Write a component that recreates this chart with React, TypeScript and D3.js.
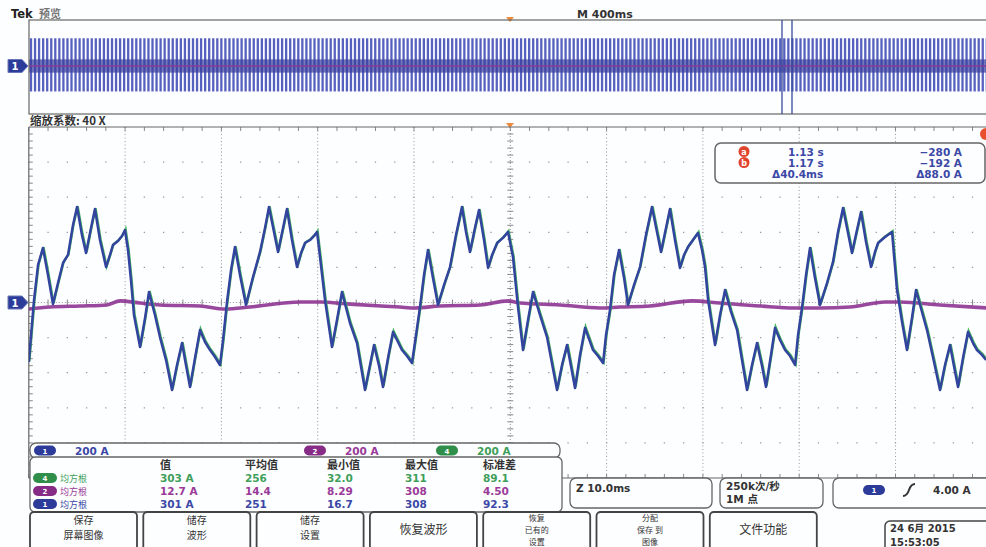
import React from 'react';
import * as d3 from 'd3';

// ---- Channel 1 (blue) current, zoom window: time in ms, current in A ----
const CH1_TIME_MS = [
  0.0, 0.54, 0.96, 1.47, 1.99, 2.51, 3.03, 3.55, 4.07, 4.59, 5.01, 5.52, 5.94, 6.46, 6.87, 7.39, 8.02, 8.43, 8.74, 9.26, 9.68, 9.99,
  10.30, 10.61, 10.92, 11.55, 12.07, 12.48, 13.10, 13.62, 14.25, 14.87, 15.39, 15.91, 16.32, 16.74, 17.26, 17.78, 18.30, 18.82, 19.34, 19.85,
  20.17, 20.58, 21.00, 21.41, 21.93, 22.55, 23.28, 24.01, 24.53, 24.94, 25.46, 25.88, 26.40, 26.81, 27.33, 27.85, 28.27, 28.68, 29.20, 29.62, 29.93,
  30.24, 30.76, 31.48, 32.00, 32.52, 33.35, 34.08, 34.91, 35.43, 35.85, 36.37, 36.78, 37.30, 37.82, 38.75, 39.27, 39.79,
  40.21, 40.62, 41.04, 41.45, 41.97, 42.49, 43.12, 43.74, 44.36, 44.98, 45.40, 45.81, 46.33, 46.75, 47.27, 47.69, 48.11, 48.63, 49.24, 49.76,
  50.28, 50.80, 51.32, 51.84, 52.36, 53.08, 53.81, 54.85, 55.37, 55.89, 56.30, 56.72, 57.24, 57.76, 58.59, 59.11, 59.63, 59.94,
  60.35, 60.77, 61.29, 61.81, 62.22, 62.85, 63.47, 64.09, 64.71, 65.23, 65.65, 66.17, 66.58, 67.10, 67.62, 68.04, 68.45, 68.97, 69.49, 69.91,
  70.22, 70.54, 71.26, 71.78, 72.30, 72.92, 73.55, 74.06, 74.58, 75.10, 75.62, 76.14, 76.55, 77.07, 77.49, 78.01, 78.53, 79.05, 79.57, 79.88,
  80.30, 80.71, 81.12, 81.64, 82.16, 82.89, 83.51, 84.03, 84.55, 85.07, 85.48, 86.00, 86.42, 86.94, 87.46, 87.87, 88.19, 88.91, 89.64, 89.84,
  90.16, 90.68, 91.19, 91.71, 92.13, 92.75, 93.27, 94.00, 94.62, 95.14, 95.66, 96.07, 96.49, 97.01, 97.53, 98.05, 98.46, 98.98, 99.40,
];
const CH1_AMPS = [
  -339, 14, 214, 311, 157, -9, 111, 225, 271, 442, 544, 385, 282, 425, 533, 356, 202, 271, 328, 350, 379, 413,
  299, 128, -71, -254, -88, 60, -71, -197, -328, -499, -356, -231, -356, -481, -316, -157, -225, -271, -311, -356,
  -214, 3, 185, 316, 157, -14, 145, 288, 425, 544, 402, 288, 425, 533, 356, 202, 282, 339, 356, 379, 402,
  259, 14, -254, -100, 60, -117, -231, -499, -356, -242, -362, -481, -316, -168, -271, -305, -345,
  -185, -26, 157, 299, 140, -14, 100, 202, 385, 544, 402, 288, 425, 527, 356, 197, 271, 339, 368, 402,
  259, -26, -271, -100, 60, -71, -197, -499, -356, -242, -362, -487, -299, -145, -271, -305, -345, -185,
  -43, 157, 299, 140, -14, 100, 202, 385, 544, 402, 288, 425, 533, 356, 197, 271, 316, 356, 396, 299,
  202, 14, -242, -71, 71, -54, -157, -328, -499, -356, -231, -362, -481, -299, -145, -214, -271, -305, -356, -185,
  -26, 157, 311, 140, -14, 111, 231, 402, 538, 396, 282, 413, 516, 345, 202, 288, 339, 373, 402, 271,
  71, -111, -271, -88, 71, -54, -157, -339, -499, -356, -242, -362, -481, -316, -168, -231, -271, -299, -328,
];

// ---- Channel 2 (purple) current ----
const CH2_TIME_MS = [
  0.0, 2.2, 5.32, 8.12, 9.47, 11.55, 13.62, 17.78, 20.37, 22.97, 28.16, 30.24, 33.35, 38.54, 40.1, 42.7, 46.85, 49.76,
  51.01, 55.17, 59.32, 61.4, 64.52, 68.87, 71.78, 75.94, 79.57, 82.16, 85.28, 88.91, 90.47, 94.62, 99.4,
];
const CH2_AMPS = [
  -37, -26, -20, -14, 9, -3, -14, -20, -37, -26, 3, 3, -9, -26, -31, -20, -14, 9,
  -3, -14, -31, -26, -20, 9, -3, -20, -31, -31, -26, 3, 3, -14, -31,
];

// ---- Labels ----
const MEAS_HEADERS = ['值', '平均值', '最小值', '最大值', '标准差'];
const MEAS_ROWS = [
  { name: '均方根', ch: '4', values: ['303 A', '256', '32.0', '311', '89.1'], color: '#3f9e5a', badge: '#2f8f4a' },
  { name: '均方根', ch: '2', values: ['12.7 A', '14.4', '8.29', '308', '4.50'], color: '#9a3a98', badge: '#862c86' },
  { name: '均方根', ch: '1', values: ['301 A', '251', '16.7', '308', '92.3'], color: '#3b48a6', badge: '#2c3a9a' },
];
const SCALE_LABELS = [
  { ch: '1', text: '200 A', color: '#3b48a6', badge: '#2c3a9a' },
  { ch: '2', text: '200 A', color: '#9a3a98', badge: '#862c86' },
  { ch: '4', text: '200 A', color: '#3f9e5a', badge: '#2f8f4a' },
];
const BUTTON_LABELS = [
  ['保存', '屏幕图像'],
  ['储存', '波形'],
  ['储存', '设置'],
  ['恢复波形'],
  ['恢复', '已有的', '设置'],
  ['分配', '保存 到', '图像'],
  ['文件功能'],
];
const CURSOR_ROWS = [
  { mark: 'a', time: '1.13 s', value: '−280 A' },
  { mark: 'b', time: '1.17 s', value: '−192 A' },
  { mark: '', time: 'Δ40.4ms', value: 'Δ88.0 A' },
];

const BLUE = '#33449e';
const FONT = "'DejaVu Sans', 'Noto Sans CJK SC', sans-serif";
const CJK = "'Noto Sans CJK SC', 'DejaVu Sans', sans-serif";

export default function App() {
  const W = 986, H = 547;
  const x = d3.scaleLinear().domain([0, 100]).range([28.8, 991.8]);
  const y = d3.scaleLinear().domain([-1000, 1000]).range([478, 127]);
  const yo = d3.scaleLinear().domain([-1000, 1000]).range([117, 15]);

  const ch1 = CH1_TIME_MS.map((t, i) => [t, CH1_AMPS[i]] as [number, number]);
  const ch2 = CH2_TIME_MS.map((t, i) => [t, CH2_AMPS[i]] as [number, number]);
  const line = d3.line<[number, number]>().x(d => x(d[0])).y(d => y(d[1]));
  const smooth = d3.line<[number, number]>().x(d => x(d[0])).y(d => y(d[1])).curve(d3.curveMonotoneX);

  const maxA = d3.max(CH1_AMPS) as number;
  const minA = d3.min(CH1_AMPS) as number;
  const overviewX = d3.range(31, 990, 4.05);

  const gx0 = x(0), gy0 = y(1000), gy1 = y(-1000);
  const minorDx = x(2) - x(0);

  const badge = (cx: number, cy: number, fill: string, label: string, w = 22, h = 10) => (
    <g>
      <rect x={cx - w / 2} y={cy - h / 2} width={w} height={h} rx={h / 2} fill={fill} />
      <text x={cx} y={cy + 3} fontSize={7} fill="#fff" textAnchor="middle" fontFamily={FONT} fontWeight="bold">{label}</text>
    </g>
  );

  const marker = (cy: number) => (
    <g>
      <path d={`M8,${cy - 6.5} H22 L28,${cy} L22,${cy + 6.5} H8 Z`} fill="#2c3c9a" stroke="#6a76b8" strokeWidth={1} />
      <text x={15} y={cy + 4} fontSize={10} fontWeight="bold" fill="#fff" textAnchor="middle" fontFamily={FONT}>1</text>
    </g>
  );

  return (
    <svg width={W} height={H} style={{ position: 'fixed', left: 0, top: 0, background: '#fdfeff' }}>
      <defs>
        <clipPath id="zoomClip"><rect x={gx0} y={gy0} width={W - gx0} height={gy1 - gy0} /></clipPath>
        <clipPath id="ovClip"><rect x={29} y={20} width={W - 29} height={94} /></clipPath>
      </defs>
      <rect width={W} height={H} fill="#fdfeff" />

      {/* Header */}
      <text x={11} y={18} fontSize={11.5} fontFamily={FONT} fontWeight="bold" fill="#222">Tek</text>
      <text x={39} y={18} fontSize={11} fontFamily={CJK} fontWeight="bold" fill="#777">预览</text>
      <text x={577} y={18} fontSize={11} fontFamily={FONT} fontWeight="bold" fill="#333">M 400ms</text>
      <path d="M506,17 L514,17 L510,22 Z" fill="#ee8a3a" />

      {/* Overview panel */}
      <g clipPath="url(#ovClip)">
        {overviewX.map((px, i) => (
          <line key={i} x1={px} x2={px} y1={yo(maxA)} y2={yo(minA)} stroke="#4450b8" strokeWidth={2.3} opacity={0.9} />
        ))}
        <rect x={29} y={yo(130)} width={W} height={yo(-130) - yo(130)} fill="#3a3f9c" opacity={0.7} />
        <line x1={29} x2={W} y1={yo(0)} y2={yo(0)} stroke="#8a3a9a" strokeWidth={2} opacity={0.7} />
      </g>
      <rect x={29} y={20} width={W} height={94} fill="none" stroke="#666" strokeWidth={1.2} />
      <line x1={782} x2={782} y1={20} y2={114} stroke="#3a4a9a" strokeWidth={1.3} />
      <line x1={792} x2={792} y1={20} y2={114} stroke="#3a4a9a" strokeWidth={1.3} />
      {marker(66)}

      {/* Zoom graticule */}
      <text x={30} y={125} fontSize={11.5} fontFamily={CJK} fontWeight="bold" fill="#333">缩放系数: 40 X</text>
      <path d="M506,123 L514,123 L510,128 Z" fill="#ee8a3a" />
      {d3.range(10, 100, 10).filter(t => t !== 50).map(t => (
        <line key={'v' + t} x1={x(t)} x2={x(t)} y1={gy0} y2={gy1} stroke="#999" strokeWidth={1} strokeDasharray="1 2.5" />
      ))}
      {d3.range(-800, 1000, 200).filter(a => a !== 0).map(a => (
        <line key={'h' + a} x1={gx0} x2={W} y1={y(a)} y2={y(a)} stroke="#999" strokeWidth={1.3}
          strokeDasharray={`1.3 ${minorDx - 1.3}`} strokeDashoffset={-minorDx + 0.65} />
      ))}
      <line x1={x(50)} x2={x(50)} y1={gy0} y2={gy1} stroke="#999" strokeWidth={1} strokeDasharray="1 2" />
      <line x1={gx0} x2={W} y1={y(0)} y2={y(0)} stroke="#999" strokeWidth={1} strokeDasharray="1 2" />
      {d3.range(-1000, 1000, 40).map(a => (
        <g key={'ct' + a}>
          <line x1={x(50) - 3} x2={x(50) + 3} y1={y(a)} y2={y(a)} stroke="#888" strokeWidth={1} />
          <line x1={gx0} x2={gx0 + 4} y1={y(a)} y2={y(a)} stroke="#888" strokeWidth={1} />
        </g>
      ))}
      {d3.range(0, 100, 2).map(t => (
        <g key={'tt' + t}>
          <line x1={x(t)} x2={x(t)} y1={y(0) - 3} y2={y(0) + 3} stroke="#888" strokeWidth={1} />
          <line x1={x(t)} x2={x(t)} y1={gy0} y2={gy0 + 4} stroke="#888" strokeWidth={1} />
          <line x1={x(t)} x2={x(t)} y1={gy1} y2={gy1 - 4} stroke="#888" strokeWidth={1} />
        </g>
      ))}
      <line x1={gx0} x2={W} y1={gy0} y2={gy0} stroke="#666" strokeWidth={1.2} />
      <line x1={gx0} x2={W} y1={gy1} y2={gy1} stroke="#666" strokeWidth={1.2} />
      <line x1={gx0} x2={gx0} y1={gy0} y2={gy1} stroke="#666" strokeWidth={1.2} />

      {/* Traces */}
      <g clipPath="url(#zoomClip)">
        <path d={smooth(ch2) || ''} fill="none" stroke="#8e3592" strokeWidth={3.6} opacity={0.9} />
        <path d={line(ch1) || ''} fill="none" stroke="#43b060" strokeWidth={2.4} transform="translate(0.6,-0.8)" />
        <path d={line(ch1) || ''} fill="none" stroke={BLUE} strokeWidth={2.5} strokeLinejoin="round" />
      </g>
      {marker(y(0))}
      <circle cx={986} cy={134} r={6} fill="#e8502e" />

      {/* Cursor readout */}
      <rect x={715} y={143} width={270} height={40} rx={6} fill="#fdfeff" stroke="#666" strokeWidth={1.5} />
      {CURSOR_ROWS.map((r, i) => (
        <g key={'cr' + i}>
          {r.mark && <circle cx={744} cy={151.5 + i * 11} r={5.5} fill="#e2452e" />}
          {r.mark && <text x={744} y={154.5 + i * 11} fontSize={8} fill="#fff" textAnchor="middle" fontFamily={FONT} fontWeight="bold">{r.mark}</text>}
          <text x={r.mark ? 788 : 772} y={156 + i * 11} fontSize={10.5} fontFamily={FONT} fontWeight="bold" fill="#3b48a6">{r.time}</text>
          <text x={962} y={156 + i * 11} fontSize={10.5} fontFamily={FONT} fontWeight="bold" fill="#3b48a6" textAnchor="end">{r.value}</text>
        </g>
      ))}

      {/* Scale legend bar */}
      <rect x={30} y={443} width={530} height={15} rx={6} fill="#fdfeff" stroke="#666" strokeWidth={1.3} />
      {SCALE_LABELS.map((s, i) => {
        const bx = [45, 315, 447][i];
        return (
          <g key={'sl' + i}>
            {badge(bx, 450.5, s.badge, s.ch)}
            <text x={bx + 30} y={455} fontSize={10.5} fontFamily={FONT} fontWeight="bold" fill={s.color}>{s.text}</text>
          </g>
        );
      })}

      {/* Measurement table */}
      <rect x={30} y={457} width={532} height={55} rx={5} fill="#fdfeff" stroke="#666" strokeWidth={1.3} />
      {MEAS_HEADERS.map((h, j) => (
        <text key={'mh' + j} x={[160, 245, 327, 405, 483][j]} y={469} fontSize={11} fontFamily={CJK} fontWeight="bold" fill="#333">{h}</text>
      ))}
      {MEAS_ROWS.map((r, i) => (
        <g key={'mr' + i}>
          {badge(45, 478 + i * 13, r.badge, r.ch, 24, 10)}
          <text x={60} y={482 + i * 13} fontSize={9} fontFamily={CJK} fill={r.color}>{r.name}</text>
          {r.values.map((v, j) => (
            <text key={j} x={[160, 245, 327, 405, 483][j]} y={482 + i * 13} fontSize={10.5} fontFamily={FONT} fontWeight="bold" fill={r.color}>{v}</text>
          ))}
        </g>
      ))}

      {/* Status boxes */}
      <rect x={570} y={478} width={142} height={30} rx={6} fill="#fdfeff" stroke="#666" strokeWidth={1.3} />
      <text x={576} y={492} fontSize={10.5} fontFamily={FONT} fontWeight="bold" fill="#333">Z 10.0ms</text>
      <rect x={720} y={478} width={103} height={30} rx={6} fill="#fdfeff" stroke="#666" strokeWidth={1.3} />
      <text x={726} y={490} fontSize={10.5} fontFamily={FONT} fontWeight="bold" fill="#333">250k次/秒</text>
      <text x={726} y={503} fontSize={10.5} fontFamily={FONT} fontWeight="bold" fill="#333">1M 点</text>
      <rect x={833} y={478} width={165} height={30} rx={6} fill="#fdfeff" stroke="#666" strokeWidth={1.3} />
      {badge(874, 490, '#2c3a9a', '1', 22, 10)}
      <path d="M903,496 Q907,496 909,490 Q911,484 915,484" fill="none" stroke="#333" strokeWidth={2} />
      <text x={933} y={494} fontSize={10.5} fontFamily={FONT} fontWeight="bold" fill="#333">4.00 A</text>

      {/* Buttons */}
      {BUTTON_LABELS.map((lab, i) => {
        const bx = 30 + i * 113.3;
        const cx = bx + 53.5;
        const n = lab.length;
        const fs = n === 3 ? 8 : n === 2 ? 10 : 12;
        const lh = n === 3 ? 11.8 : 14.6;
        const top = n === 1 ? 534 : n === 2 ? 524 : 521;
        return (
          <g key={'b' + i}>
            <rect x={bx} y={512} width={107} height={45} rx={4} fill="#fdfeff" stroke="#444" strokeWidth={1.8} />
            {lab.map((t, k) => (
              <text key={k} x={cx} y={top + k * lh} fontSize={fs} fontFamily={CJK} fill="#333" textAnchor="middle">{t}</text>
            ))}
          </g>
        );
      })}

      {/* Date */}
      <rect x={885} y={521} width={110} height={35} rx={5} fill="#fdfeff" stroke="#444" strokeWidth={1.5} />
      <text x={890} y={532} fontSize={10} fontFamily={FONT} fontWeight="bold" fill="#333">24 6月  2015</text>
      <text x={890} y={546} fontSize={10} fontFamily={FONT} fontWeight="bold" fill="#333">15:53:05</text>
    </svg>
  );
}
